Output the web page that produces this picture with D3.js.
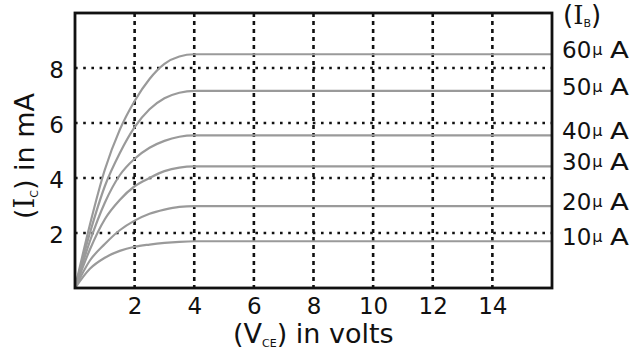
<!DOCTYPE html>
<html>
<head>
<meta charset="utf-8">
<script src="https://cdn.jsdelivr.net/npm/d3@7"></script>
<style>
  body { margin: 0; background: #fff; }
  svg { display: block; font-family: "DejaVu Sans", Verdana, sans-serif; }
</style>
</head>
<body>
<div id="chart"></div>
<script>
// collector-emitter voltage samples (V) and collector current per base current (mA)
const vce = [0, 0.5, 1, 1.5, 2, 2.5, 3, 3.5, 4, 16];
const ic60 = [0, 2.3, 4.3, 5.75, 6.8, 7.6, 8.15, 8.42, 8.5, 8.5];
const ic50 = [0, 2.0, 3.7, 4.9, 5.85, 6.5, 6.9, 7.1, 7.17, 7.17];
const ic40 = [0, 1.7, 3.1, 4.1, 4.7, 5.1, 5.35, 5.5, 5.55, 5.55];
const ic30 = [0, 1.4, 2.5, 3.2, 3.7, 4.0, 4.25, 4.38, 4.42, 4.42];
const ic20 = [0, 1.0, 1.6, 2.1, 2.45, 2.7, 2.85, 2.95, 2.98, 2.98];
const ic10 = [0, 0.7, 1.1, 1.35, 1.5, 1.58, 1.64, 1.68, 1.7, 1.7];
const baseLabels = ['60', '50', '40', '30', '20', '10'];
const xTicks = [2, 4, 6, 8, 10, 12, 14];
const yTicks = [2, 4, 6, 8];

const series = [ic60, ic50, ic40, ic30, ic20, ic10].map((vals, i) => ({
  label: baseLabels[i],
  points: vals.map((v, j) => ({ x: vce[j], y: v }))
}));

const width = 635, height = 352;
const margin = { top: 13, right: 83, bottom: 64, left: 75 };
const w = width - margin.left - margin.right;
const h = height - margin.top - margin.bottom;

const x_scale = d3.scaleLinear().domain([0, 16]).range([0, w]);
const y_scale = d3.scaleLinear().domain([0, 10]).range([h, 0]);

const svg = d3.select('#chart').append('svg')
  .attr('width', width)
  .attr('height', height);

const g = svg.append('g')
  .attr('transform', 'translate(' + margin.left + ',' + margin.top + ')');

// grid
g.selectAll('.hgrid')
  .data(yTicks)
  .enter().append('line')
  .attr('x1', 0).attr('x2', w)
  .attr('y1', d => y_scale(d)).attr('y2', d => y_scale(d))
  .attr('stroke', '#111')
  .attr('stroke-width', 2.6)
  .attr('stroke-dasharray', '2.6,5.6');

g.selectAll('.vgrid')
  .data(xTicks)
  .enter().append('line')
  .attr('x1', d => x_scale(d)).attr('x2', d => x_scale(d))
  .attr('y1', 0).attr('y2', h)
  .attr('stroke', '#111')
  .attr('stroke-width', 2.6)
  .attr('stroke-dasharray', '4,4');

// curves
const line = d3.line()
  .x(d => x_scale(d.x))
  .y(d => y_scale(d.y))
  .curve(d3.curveMonotoneX);

g.selectAll('.curve')
  .data(series)
  .enter().append('path')
  .attr('d', d => line(d.points))
  .attr('fill', 'none')
  .attr('stroke', '#9a9a9a')
  .attr('stroke-width', 2.2);

// frame
g.append('rect')
  .attr('width', w).attr('height', h)
  .attr('fill', 'none')
  .attr('stroke', '#111')
  .attr('stroke-width', 2.8);

// axes (labels only)
const xAxis = g.append('g')
  .attr('transform', 'translate(0,' + h + ')')
  .call(d3.axisBottom(x_scale).tickValues(xTicks).tickSize(0).tickPadding(10));
const yAxis = g.append('g')
  .call(d3.axisLeft(y_scale).tickValues(yTicks).tickSize(0).tickPadding(11));
[xAxis, yAxis].forEach(a => {
  a.select('.domain').remove();
  a.selectAll('text')
    .attr('font-family', '"DejaVu Sans", Verdana, sans-serif')
    .attr('font-size', 23)
    .attr('fill', '#111');
});
yAxis.selectAll('text').attr('dy', '0.42em');

// right labels
const labX = margin.left + w + 10;
const labY = d => margin.top + y_scale(d.points[d.points.length - 1].y) + 4;
const lab = svg.selectAll('.ib')
  .data(series)
  .enter().append('text')
  .attr('x', labX)
  .attr('y', labY)
  .attr('font-size', 23)
  .attr('fill', '#111');
lab.append('tspan').text(d => d.label);
lab.append('tspan').attr('font-size', 16).attr('dx', 1).attr('dy', -3).text('\u03bc');
svg.selectAll('.ibA')
  .data(series)
  .enter().append('text')
  .attr('transform', d => 'translate(' + (labX + 48) + ',' + labY(d) + ') scale(1.2,1)')
  .attr('font-size', 23)
  .attr('fill', '#111')
  .text('A');

const ib = svg.append('text')
  .attr('x', labX + 1)
  .attr('y', 24)
  .attr('font-size', 26)
  .attr('fill', '#111');
ib.append('tspan').text('(');
ib.append('tspan').attr('font-family', '"DejaVu Serif", serif').text('I');
ib.append('tspan').attr('font-size', 11).attr('dy', 3).text('B');
ib.append('tspan').attr('dy', -3).text(')');

// axis titles
const xt = svg.append('text')
  .attr('x', 233)
  .attr('y', 343)
  .attr('font-size', 27)
  .attr('fill', '#111');
xt.append('tspan').text('(V');
xt.append('tspan').attr('font-size', 11).attr('dy', 4).text('CE');
xt.append('tspan').attr('dy', -4).text(') in volts');

const yt = svg.append('text')
  .attr('transform', 'translate(34,156) rotate(-90)')
  .attr('text-anchor', 'middle')
  .attr('font-size', 27)
  .attr('fill', '#111');
yt.append('tspan').text('(');
yt.append('tspan').attr('font-family', '"DejaVu Serif", serif').text('I');
yt.append('tspan').attr('font-size', 11).attr('dy', 4).text('C');
yt.append('tspan').attr('dy', -4).text(') in mA');
</script>
</body>
</html>
